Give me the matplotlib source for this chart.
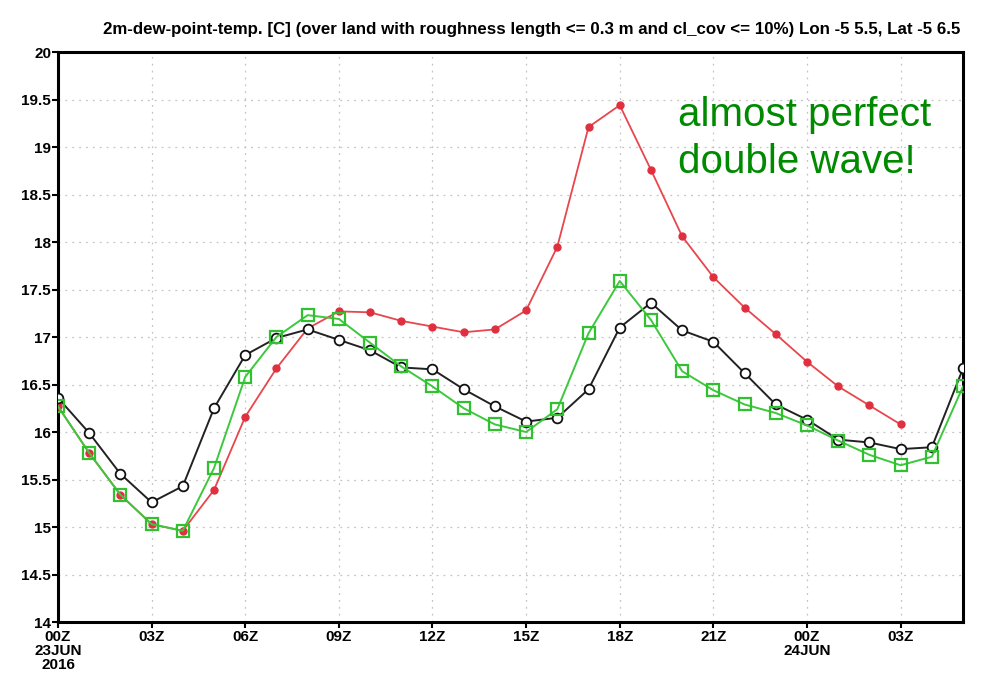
import matplotlib.pyplot as plt
import numpy as np

# hours since 00Z 23 JUN 2016
hours = np.arange(0, 30)

# 2m dew point temperature series [C]
dewp_black = [16.36, 15.99, 15.56, 15.26, 15.43, 16.25, 16.81, 16.99, 17.08, 16.97,
              16.86, 16.68, 16.66, 16.45, 16.27, 16.11, 16.15, 16.45, 17.10, 17.36,
              17.07, 16.95, 16.62, 16.29, 16.13, 15.92, 15.89, 15.82, 15.84, 16.67]
dewp_green = [16.27, 15.78, 15.34, 15.03, 14.96, 15.62, 16.58, 17.00, 17.23, 17.19,
              16.94, 16.69, 16.48, 16.25, 16.08, 16.00, 16.24, 17.04, 17.59, 17.18,
              16.64, 16.44, 16.29, 16.20, 16.07, 15.91, 15.76, 15.65, 15.74, 16.48]
dewp_red = [16.27, 15.78, 15.34, 15.03, 14.96, 15.39, 16.16, 16.67, 17.09, 17.27,
            17.26, 17.17, 17.11, 17.05, 17.08, 17.28, 17.95, 19.21, 19.44, 18.76,
            18.06, 17.63, 17.31, 17.03, 16.74, 16.48, 16.28, 16.08]

xtick_pos = [0, 3, 6, 9, 12, 15, 18, 21, 24, 27]
xtick_labels = ["00Z\n23JUN\n2016", "03Z", "06Z", "09Z", "12Z", "15Z", "18Z", "21Z",
                "00Z\n24JUN", "03Z"]
ytick_pos = np.arange(14, 20.01, 0.5)
ytick_labels = ["14", "14.5", "15", "15.5", "16", "16.5", "17", "17.5",
                "18", "18.5", "19", "19.5", "20"]

title = ("2m-dew-point-temp. [C] (over land with roughness length <= 0.3 m and "
         "cl_cov <= 10%) Lon -5 5.5, Lat -5 6.5")

lab_font = dict(family=["Liberation Sans", "DejaVu Sans"], weight="bold")

fig = plt.figure(figsize=(9.84, 6.79), dpi=100)
ax = fig.add_axes([0.0589, 0.0839, 0.9198, 0.8395])

ax.plot(hours[:len(dewp_red)], dewp_red, color="#e8464c", lw=1.3,
        marker="o", ms=5, mfc="#e03040", mec="#e03040", zorder=3)
ax.plot(hours, dewp_black, color="#222222", lw=1.4, marker="o", ms=7,
        mfc="white", mec="#111111", mew=1.3, zorder=4)
ax.plot(hours, dewp_green, color="#3cc83c", lw=1.4, marker="s", ms=8,
        mfc="none", mec="#30c030", mew=1.6, zorder=5)

ax.set_xlim(0, 29)
ax.set_ylim(14, 20)
ax.set_xticks(xtick_pos)
ax.set_xticklabels(xtick_labels, fontsize=11, linespacing=1.0, **lab_font)
ax.set_yticks(ytick_pos)
ax.set_yticklabels(ytick_labels, fontsize=11, **lab_font)
ax.tick_params(axis="both", direction="out", length=4, width=1.5, pad=1)
ax.tick_params(axis="x", pad=2)

ax.grid(True, color="#c4c4c4", linestyle=(0, (1.5, 4)), linewidth=0.9)
for s in ax.spines.values():
    s.set_linewidth(2.2)

fig.text(0.540, 0.957, title, ha="center", va="center", fontsize=12.2, **lab_font)

ax.text(0.685, 0.922, "almost perfect\ndouble wave!", transform=ax.transAxes,
        color="#008a00", fontsize=29, family=["Liberation Sans", "DejaVu Sans"],
        ha="left", va="top", linespacing=1.3)

fig.savefig("out.png", dpi=100)
